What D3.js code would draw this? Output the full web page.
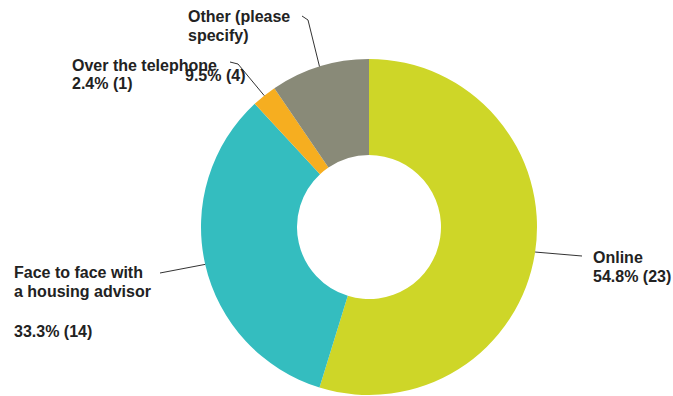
<!DOCTYPE html>
<html>
<head>
<meta charset="utf-8">
<script src="https://cdn.jsdelivr.net/npm/d3@7"></script>
<style>
  body { margin: 0; background: #fff; }
  .lbl { font-family: "Liberation Sans", Arial, sans-serif; font-weight: bold; font-size: 16px; fill: #222; }
</style>
</head>
<body>
<div id="chart"></div>
<script>

// data, clockwise from 12 o'clock
const categories = ["Online", "Face to face with a housing advisor", "Over the telephone", "Other (please specify)"];
const counts = [23, 14, 1, 4];
const percentLabels = ["54.8% (23)", "33.3% (14)", "2.4% (1)", "9.5% (4)"];

const colors = ["#ced628", "#34bdbf", "#f6ae20", "#898a78"];

// label layout: text lines with baselines, and leader line end points
const labelLayout = [
    { x: 593, lines: [["Online", 263], ["54.8% (23)", 282]], line: [[582, 256]] },
    { x: 14, lines: [["Face to face with", 278], ["a housing advisor", 297], ["33.3% (14)", 337]], line: [[160, 273]] },
    { x: 72, lines: [["Over the telephone", 71], ["2.4% (1)", 89]], line: [[238, 64], [230, 62]] },
    { x: 188, lines: [["Other (please", 22], ["specify)", 41], ["9.5% (4)", 81, 185]], line: [[308, 20], [302, 16]] }
];

const svgWidth = 673, svgHeight = 396;
const cx = 369, cy = 227, outerR = 168, innerR = 72;

const svg = d3.select("#chart").append("svg")
    .attr("width", svgWidth)
    .attr("height", svgHeight);

const g = svg.append("g").attr("transform", "translate(" + cx + "," + cy + ")");

const pie = d3.pie().sort(null).value(d => d);
const arcs = pie(counts);

const arc = d3.arc().innerRadius(innerR).outerRadius(outerR);

g.selectAll("path.slice")
    .data(arcs)
    .enter().append("path")
    .attr("class", "slice")
    .attr("d", arc)
    .attr("fill", (d, i) => colors[i]);

// leader lines from the outer edge at each slice's mid angle
const edge = d3.arc().innerRadius(outerR).outerRadius(outerR);
arcs.forEach((d, i) => {
    const p = edge.centroid(d);
    const pts = [[cx + p[0], cy + p[1]]].concat(labelLayout[i].line);
    svg.append("path")
        .attr("d", d3.line()(pts))
        .attr("fill", "none")
        .attr("stroke", "#333")
        .attr("stroke-width", 1);
});

labelLayout.forEach((l, i) => {
    l.lines.forEach(t => {
        svg.append("text")
            .attr("class", "lbl")
            .attr("x", t[2] !== undefined ? t[2] : l.x)
            .attr("y", t[1])
            .text(t[0]);
    });
});

</script>
</body>
</html>
